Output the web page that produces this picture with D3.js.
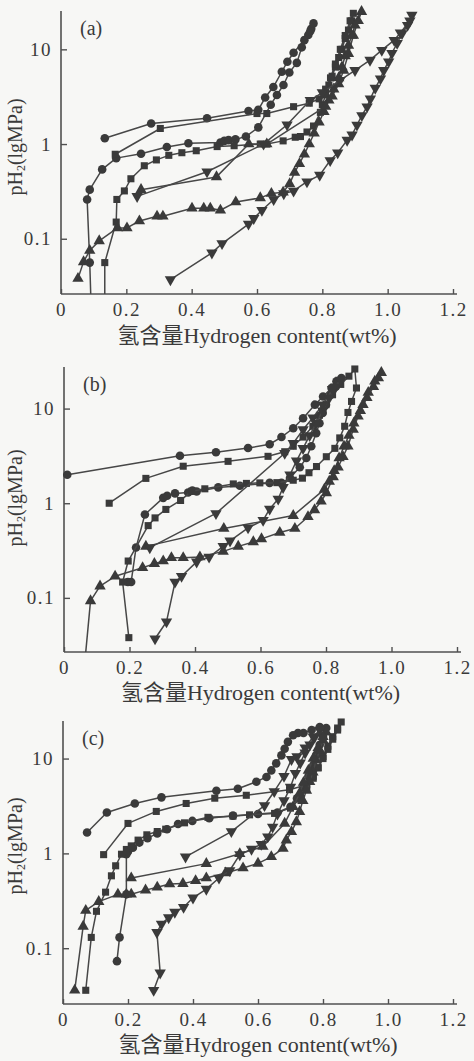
<!DOCTYPE html>
<html>
<head>
<meta charset="utf-8">
<script src="https://cdn.jsdelivr.net/npm/d3@7"></script>
<style>
  body { margin: 0; background: #f7f7f5; }
  svg { display: block; }
  text { font-family: "Liberation Serif", "Times New Roman", "Noto Sans CJK SC", serif; fill: #3a3a3a; }
</style>
</head>
<body>
<div class="canvas"></div>
<script>
// tick labels
const xTicks = [0, 0.2, 0.4, 0.6, 0.8, 1.0, 1.2];
const yTicks = [0.1, 1, 10];
const panelNames = ['(a)', '(b)', '(c)'];
const xTitle = '氢含量Hydrogen content(wt%)';

// [hydrogen content wt%, pressure MPa] — each curve drawn as one loop
//---------------------------
const aCircle = [[0.092,0.02],[0.088,0.056],[0.080,0.26],[0.088,0.33],[0.126,0.54],[0.169,0.71],[0.245,0.79],[0.324,0.93],[0.39,1.02],[0.488,1.04],[0.50,1.08],[0.513,1.10],[0.534,1.12],[0.566,1.2],[0.604,1.5],[0.642,2.6],[0.661,3.3],[0.681,4.2],[0.699,5.7],[0.722,7.2],[0.737,10.5],[0.757,14.2],[0.766,16.5],[0.773,18.8],[0.763,15.5],[0.745,12.5],[0.712,9.2],[0.693,7.4],[0.676,5.8],[0.65,4.0],[0.625,3.1],[0.604,2.3],[0.574,2.23],[0.447,1.87],[0.276,1.65],[0.134,1.15]];
const aSquare = [[0.134,0.02],[0.134,0.056],[0.169,0.15],[0.171,0.26],[0.194,0.32],[0.214,0.43],[0.255,0.59],[0.292,0.68],[0.33,0.76],[0.37,0.81],[0.414,0.85],[0.478,0.94],[0.53,0.96],[0.61,1.0],[0.63,1.0],[0.68,1.08],[0.717,1.18],[0.733,1.2],[0.753,1.34],[0.773,1.55],[0.794,2.16],[0.80,2.6],[0.81,3.3],[0.82,4.2],[0.83,5.2],[0.84,6.5],[0.85,8.2],[0.86,10],[0.87,13],[0.88,16],[0.89,20],[0.895,24],[0.885,20],[0.87,14],[0.855,10],[0.84,7],[0.825,5],[0.81,3.8],[0.79,3.0],[0.76,2.7],[0.712,2.48],[0.63,2.1],[0.6,2.1],[0.304,1.46],[0.166,0.78]];
const aTriUp = [[0.052,0.038],[0.069,0.057],[0.088,0.075],[0.117,0.095],[0.173,0.13],[0.202,0.13],[0.24,0.154],[0.294,0.173],[0.312,0.173],[0.401,0.21],[0.437,0.21],[0.457,0.21],[0.488,0.2],[0.535,0.244],[0.61,0.27],[0.644,0.3],[0.68,0.31],[0.70,0.38],[0.715,0.5],[0.73,0.62],[0.745,0.78],[0.76,1.0],[0.775,1.3],[0.79,1.7],[0.805,2.2],[0.82,2.9],[0.835,3.8],[0.85,5],[0.86,6.5],[0.87,8.5],[0.88,11],[0.89,14],[0.90,18],[0.92,25],[0.91,20],[0.895,14],[0.88,9],[0.865,6],[0.85,4.3],[0.83,3.2],[0.81,2.5],[0.63,1.0],[0.575,1.0],[0.476,0.45],[0.245,0.33]];
const aTriDown = [[0.335,0.037],[0.462,0.071],[0.493,0.089],[0.574,0.143],[0.59,0.164],[0.615,0.2],[0.651,0.26],[0.682,0.3],[0.712,0.32],[0.753,0.4],[0.792,0.47],[0.824,0.67],[0.847,0.81],[0.876,1.1],[0.891,1.25],[0.906,1.59],[0.921,2.0],[0.937,2.48],[0.947,3.0],[0.962,3.9],[0.978,4.9],[0.988,6.0],[1.003,7.4],[1.013,9.1],[1.029,11.6],[1.044,14.7],[1.061,18],[1.074,23],[1.068,20],[1.039,15],[1.02,12.5],[0.982,9.8],[0.946,7.7],[0.9,6.0],[0.854,4.7],[0.8,3.5],[0.763,2.9],[0.692,1.6],[0.62,1.0],[0.447,0.51],[0.233,0.28]];

const bCircle = [[0.195,0.147],[0.205,0.147],[0.22,0.34],[0.247,0.76],[0.303,1.14],[0.315,1.2],[0.339,1.27],[0.379,1.3],[0.392,1.36],[0.405,1.33],[0.471,1.47],[0.537,1.53],[0.628,1.64],[0.664,1.64],[0.69,1.85],[0.72,2.4],[0.74,3.0],[0.755,4.0],[0.77,5.5],[0.78,7],[0.79,9],[0.80,11],[0.815,14],[0.83,17],[0.847,21],[0.832,19.4],[0.817,16.5],[0.791,13.4],[0.766,11],[0.73,7.9],[0.7,6.2],[0.664,5.0],[0.628,4.2],[0.562,3.83],[0.464,3.45],[0.354,3.18],[0.01,2.0]];
const bSquare = [[0.198,0.038],[0.179,0.147],[0.196,0.245],[0.257,0.58],[0.278,0.7],[0.311,0.86],[0.356,1.07],[0.39,1.34],[0.43,1.42],[0.517,1.6],[0.557,1.62],[0.598,1.64],[0.65,1.65],[0.70,1.75],[0.728,1.84],[0.748,2.1],[0.771,2.44],[0.801,3.1],[0.827,3.8],[0.842,4.9],[0.857,6.5],[0.867,9.1],[0.878,11.9],[0.893,16.5],[0.888,26.2],[0.87,22],[0.845,18],[0.82,14],[0.80,11],[0.78,8.5],[0.76,6.5],[0.73,5.0],[0.70,4.0],[0.674,3.5],[0.623,3.13],[0.501,2.77],[0.364,2.46],[0.25,1.83],[0.138,1.0]];
const bTriUp = [[0.063,0.02],[0.081,0.093],[0.11,0.133],[0.156,0.169],[0.24,0.208],[0.276,0.23],[0.303,0.245],[0.328,0.265],[0.364,0.265],[0.415,0.27],[0.486,0.31],[0.532,0.35],[0.578,0.39],[0.603,0.42],[0.659,0.49],[0.705,0.54],[0.745,0.72],[0.765,0.85],[0.785,1.05],[0.801,1.28],[0.822,1.9],[0.837,2.4],[0.852,3.1],[0.867,4.0],[0.883,6.0],[0.898,8.3],[0.913,11],[0.929,14.8],[0.949,19.4],[0.969,24],[0.96,21],[0.945,17],[0.925,13],[0.905,9.5],[0.885,7],[0.87,5.2],[0.855,4.0],[0.84,3.0],[0.825,2.2],[0.81,1.7],[0.795,1.4],[0.7,0.74],[0.488,0.54],[0.25,0.35]];
const bTriDown = [[0.278,0.037],[0.313,0.056],[0.339,0.147],[0.359,0.169],[0.405,0.24],[0.443,0.27],[0.486,0.35],[0.507,0.4],[0.562,0.55],[0.608,0.66],[0.628,0.87],[0.654,1.11],[0.669,1.47],[0.69,2.0],[0.71,2.8],[0.73,3.8],[0.75,5.2],[0.77,7],[0.79,9.5],[0.81,13],[0.83,17],[0.845,20],[0.82,16],[0.79,11],[0.76,8],[0.73,6],[0.70,4.3],[0.674,3.37],[0.464,0.78],[0.262,0.34]];

const cCircle = [[0.166,0.073],[0.174,0.13],[0.195,0.37],[0.195,0.98],[0.2,1.05],[0.215,1.15],[0.235,1.3],[0.26,1.45],[0.29,1.62],[0.32,1.8],[0.354,2.04],[0.398,2.2],[0.45,2.35],[0.523,2.5],[0.6,2.6],[0.66,2.7],[0.7,3.1],[0.72,3.8],[0.74,5],[0.755,6.5],[0.77,8.5],[0.78,11],[0.79,14],[0.8,17],[0.81,21],[0.79,21.5],[0.765,20],[0.74,18.6],[0.723,18.6],[0.708,17.6],[0.692,15],[0.682,12.7],[0.672,10.8],[0.656,8.9],[0.641,7.5],[0.626,6.4],[0.595,5.7],[0.538,4.8],[0.472,4.57],[0.303,3.9],[0.221,3.36],[0.135,2.7],[0.074,1.66]];
const cSquare = [[0.07,0.036],[0.087,0.13],[0.103,0.245],[0.131,0.39],[0.149,0.58],[0.162,0.74],[0.18,0.98],[0.195,1.1],[0.21,1.2],[0.231,1.38],[0.258,1.57],[0.29,1.7],[0.316,1.8],[0.374,2.1],[0.446,2.4],[0.523,2.47],[0.574,2.55],[0.651,2.64],[0.7,3.0],[0.73,3.8],[0.75,4.8],[0.77,6.2],[0.785,8],[0.8,10.5],[0.815,13.5],[0.83,17],[0.845,21],[0.856,24.3],[0.845,20],[0.83,16],[0.815,12.5],[0.8,10],[0.785,8],[0.77,6.5],[0.75,5.3],[0.697,4.7],[0.564,4.1],[0.467,3.82],[0.379,3.36],[0.287,2.77],[0.2,2.07],[0.125,0.97]];
const cTriUp = [[0.036,0.036],[0.062,0.17],[0.07,0.25],[0.11,0.31],[0.169,0.37],[0.195,0.37],[0.21,0.37],[0.254,0.41],[0.29,0.44],[0.328,0.475],[0.369,0.48],[0.408,0.515],[0.441,0.55],[0.5,0.62],[0.554,0.7],[0.6,0.785],[0.641,0.92],[0.677,1.13],[0.687,1.38],[0.703,1.69],[0.718,2.15],[0.728,2.75],[0.738,3.6],[0.749,4.6],[0.759,5.7],[0.769,7.2],[0.779,9.6],[0.79,12.2],[0.8,15.6],[0.81,19],[0.8,17],[0.785,13],[0.77,10],[0.755,7.5],[0.74,5.6],[0.728,4.3],[0.708,3.1],[0.682,2.07],[0.615,1.18],[0.544,0.99],[0.441,0.78],[0.21,0.55]];
const cTriDown = [[0.279,0.036],[0.299,0.055],[0.289,0.147],[0.303,0.18],[0.325,0.21],[0.344,0.24],[0.371,0.27],[0.4,0.34],[0.441,0.42],[0.48,0.55],[0.513,0.66],[0.544,0.97],[0.58,1.11],[0.61,1.25],[0.63,1.5],[0.645,1.9],[0.66,2.6],[0.68,3.6],[0.7,5],[0.715,7],[0.73,9],[0.745,11.5],[0.76,14],[0.775,17],[0.79,20],[0.77,17],[0.745,13],[0.72,10.5],[0.703,9.8],[0.68,6.5],[0.65,4.5],[0.62,3.2],[0.518,1.7],[0.377,0.92]];
//---------------------------

// panel layout (pixels) and y extent of each log axis
const panels = [
    { name: panelNames[0], left: 61, right: 453, top: 11, bottom: 294, lo: 0.0261, hi: 25.4, titleY: 338, ytitleY: 147,
      series: [aCircle, aSquare, aTriUp, aTriDown] },
    { name: panelNames[1], left: 64, right: 457, top: 367, bottom: 652, lo: 0.0268, hi: 27.5, titleY: 695, ytitleY: 498,
      series: [bCircle, bSquare, bTriUp, bTriDown] },
    { name: panelNames[2], left: 63, right: 453, top: 721, bottom: 1004, lo: 0.0258, hi: 24.9, titleY: 1047, ytitleY: 846,
      series: [cCircle, cSquare, cTriUp, cTriDown] }
];

const markerTypes = [
    { type: d3.symbolCircle, size: 58, rot: 0 },
    { type: d3.symbolSquare, size: 50, rot: 0 },
    { type: d3.symbolTriangle, size: 56, rot: 0 },
    { type: d3.symbolTriangle, size: 56, rot: 180 }
];

const ink = '#3a3a3a';

const svg = d3.select('.canvas').append('svg')
    .attr('width', 474)
    .attr('height', 1061);

panels.forEach((p, i) => {
    const x = d3.scaleLinear().domain([0, 1.2]).range([p.left, p.right]);
    const y = d3.scaleLog().domain([p.lo, p.hi]).range([p.bottom, p.top]);

    const g = svg.append('g');

    // clip so lines running below the lowest pressure stop at the axis
    const clipId = 'clip' + i;
    svg.append('clipPath').attr('id', clipId)
        .append('rect')
        .attr('x', p.left).attr('y', p.top - 20)
        .attr('width', p.right - p.left + 30).attr('height', p.bottom - p.top + 20);

    // axes, ticks pointing inward
    const xAxis = d3.axisBottom(x).tickValues(xTicks)
        .tickFormat(d => d === 0 ? '0' : d3.format('.1f')(d))
        .tickSizeInner(-5).tickSizeOuter(0).tickPadding(9);
    const yAxis = d3.axisLeft(y).tickValues(yTicks)
        .tickFormat(d => String(d))
        .tickSizeInner(-6).tickSizeOuter(0).tickPadding(9);

    const xg = g.append('g').attr('transform', `translate(0,${p.bottom})`).call(xAxis);
    const yg = g.append('g').attr('transform', `translate(${p.left},0)`).call(yAxis);
    [xg, yg].forEach(a => {
        a.select('.domain').remove();
        a.selectAll('.tick line').attr('stroke', '#505050').attr('stroke-width', 1.4);
        a.selectAll('.tick text').attr('font-size', 19).attr('fill', ink)
            .attr('font-family', '"Liberation Serif", serif').style('letter-spacing', '1.5px');
    });

    // axis lines
    g.append('line').attr('x1', p.left).attr('x2', p.right + 4)
        .attr('y1', p.bottom).attr('y2', p.bottom)
        .attr('stroke', '#505050').attr('stroke-width', 1.6);
    g.append('line').attr('x1', p.left).attr('x2', p.left)
        .attr('y1', p.top).attr('y2', p.bottom)
        .attr('stroke', '#505050').attr('stroke-width', 1.6);

    // curves
    const line = d3.line().x(d => x(d[0])).y(d => y(d[1]));
    p.series.forEach((s, k) => {
        g.append('path').datum(s)
            .attr('clip-path', `url(#${clipId})`)
            .attr('d', line)
            .attr('fill', 'none')
            .attr('stroke', '#474747')
            .attr('stroke-width', 1.5)
            .attr('stroke-linejoin', 'round');

        const m = markerTypes[k];
        g.selectAll(null).data(s.filter(d => d[1] >= p.lo)).enter()
            .append('path')
            .attr('d', d3.symbol().type(m.type).size(m.size))
            .attr('transform', d => `translate(${x(d[0])},${y(d[1])}) rotate(${m.rot})`)
            .attr('fill', ink);
    });

    // panel label
    g.append('text').attr('x', p.left + 19).attr('y', p.top + 24)
        .attr('font-size', 20).text(p.name);

    // x title
    g.append('text').attr('x', (p.left + p.right) / 2).attr('y', p.titleY)
        .attr('text-anchor', 'middle').attr('dominant-baseline', 'middle')
        .attr('font-size', 22).text(xTitle);

    // y title
    const yt = g.append('text')
        .attr('transform', `translate(17,${p.ytitleY}) rotate(-90)`)
        .attr('text-anchor', 'middle').attr('dominant-baseline', 'middle')
        .attr('font-size', 20);
    yt.append('tspan').text('pH');
    yt.append('tspan').attr('font-size', 12).attr('dy', 5).text('2');
    yt.append('tspan').attr('dy', -5).text('(lgMPa)');
});
</script>
</body>
</html>
